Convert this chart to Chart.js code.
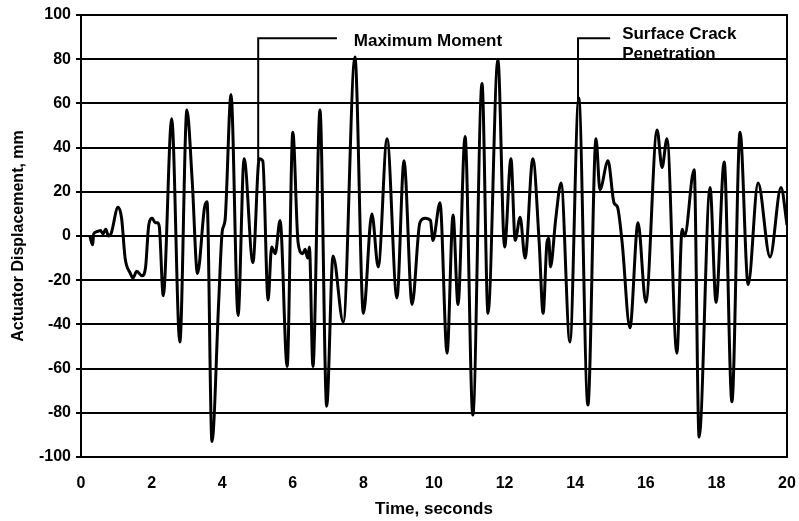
<!DOCTYPE html>
<html>
<head>
<meta charset="utf-8">
<script src="https://cdn.jsdelivr.net/npm/chart.js@4.4.0/dist/chart.umd.min.js"></script>
<style>
  html, body { margin: 0; padding: 0; background: #fff; }
  canvas { display: block; }
</style>
</head>
<body>
<canvas id="myChart" width="799" height="521"></canvas>
<script>
// actuator record, time in seconds / displacement in mm
const times = [
  0.25, 0.33, 0.36, 0.45, 0.55, 0.62, 0.7, 0.78, 0.85, 1.05,
  1.15, 1.25, 1.4, 1.47, 1.58, 1.73, 1.83, 1.92, 2.02, 2.1,
  2.17, 2.22, 2.33, 2.57, 2.8, 3.0, 3.15, 3.3, 3.5, 3.57,
  3.71, 3.9, 4.0, 4.08, 4.25, 4.45, 4.62, 4.87, 5.05, 5.15,
  5.3, 5.4, 5.5, 5.64, 5.84, 6.0, 6.15, 6.28, 6.35, 6.42,
  6.47, 6.57, 6.77, 6.96, 7.14, 7.43, 7.76, 8.0, 8.24, 8.42,
  8.67, 8.95, 9.15, 9.38, 9.6, 9.75, 9.9, 9.97, 10.17, 10.37,
  10.54, 10.68, 10.88, 11.1, 11.36, 11.53, 11.81, 12.0, 12.18, 12.3,
  12.44, 12.58, 12.8, 12.98, 13.09, 13.2, 13.25, 13.3, 13.45, 13.6,
  13.85, 14.1, 14.36, 14.59, 14.7, 14.93, 15.1, 15.2, 15.33, 15.55,
  15.78, 16.0, 16.32, 16.46, 16.6, 16.88, 17.03, 17.1, 17.37, 17.51,
  17.82, 17.99, 18.22, 18.44, 18.67, 18.9, 19.18, 19.52, 19.83, 20.0,
];
const displacement = [
  0, -4, 1, 2, 2.5, 1, 3, 0, 1, 13,
  8, -10, -17, -19, -16, -18, -14, 5, 8, 6,
  6, 4, -27, 53, -48, 57, 25, -17, 13, 15.5,
  -93, -30, 2, 7, 64, -36, 35, -12, 35, 34,
  -29, -5, -8, 7, -59, 47, -3, -8, -6, -10,
  -5, -59, 57, -77, -9, -39, 81, -35, 10, -14,
  44, -28, 34, -31, 6, 8, 7, -2, 15, -53,
  9.5, -31, 45, -81, 69, -35, 80, -5, 35, -2,
  8.5, -10, 35, -3, -35, -3, -1, -14, 8, 24,
  -48, 62.5, -76.5, 44, 21, 34, 15, 13, -3, -41.5,
  6, -30, 48, 31, 44, -53, 3, 0, 30, -91,
  22, -30, 33.5, -75, 47, -22, 24, -9.5, 22, 5,
];
const xTicks = [0, 2, 4, 6, 8, 10, 12, 14, 16, 18, 20];
const yTicks = [-100, -80, -60, -40, -20, 0, 20, 40, 60, 80, 100];

// callouts: leader from the peak up to the elbow, then across to the note
const callouts = [
  { t: 5.02, peak: 34, elbow: 7.25, textT: 7.73, lines: ["Maximum Moment"], textY: [86] },
  { t: 14.08, peak: 61, elbow: 14.99, textT: 15.33, lines: ["Surface Crack", "Penetration"], textY: [89, 80.2] },
];
const calloutTop = 89.5;

const FONT = '"Liberation Sans", Arial, Helvetica, sans-serif';

const frameAndCallouts = {
  id: "frameAndCallouts",
  afterDatasetsDraw(chart) {
    const { ctx, chartArea, scales } = chart;
    const x = scales.x;
    const y = scales.y;
    ctx.save();
    ctx.strokeStyle = "#000";
    ctx.lineWidth = 2;
    ctx.strokeRect(chartArea.left, chartArea.top, chartArea.right - chartArea.left, chartArea.bottom - chartArea.top);

    ctx.fillStyle = "#000";
    ctx.font = "bold 17px " + FONT;
    ctx.textBaseline = "alphabetic";
    ctx.textAlign = "left";
    callouts.forEach((c) => {
      const px = x.getPixelForValue(c.t);
      const top = y.getPixelForValue(calloutTop);
      ctx.beginPath();
      ctx.moveTo(px, y.getPixelForValue(c.peak));
      ctx.lineTo(px, top);
      ctx.lineTo(x.getPixelForValue(c.elbow), top);
      ctx.stroke();
      c.lines.forEach((line, i) => {
        ctx.fillText(line, x.getPixelForValue(c.textT), y.getPixelForValue(c.textY[i]));
      });
    });
    ctx.restore();
  },
};

const ctx = document.getElementById("myChart").getContext("2d");
const myChart = new Chart(ctx, {
  type: "line",
  data: {
    datasets: [
      {
        data: times.map((t, i) => ({ x: t, y: displacement[i] })),
        borderColor: "#000",
        borderWidth: 3,
        pointRadius: 0,
        cubicInterpolationMode: "monotone",
        fill: false,
      },
    ],
  },
  options: {
    responsive: false,
    animation: false,
    devicePixelRatio: 1,
    layout: { padding: { top: 15, right: 12, left: 0, bottom: 0 } },
    plugins: {
      legend: { display: false },
      tooltip: { enabled: false },
    },
    scales: {
      x: {
        type: "linear",
        min: 0,
        max: 20,
        afterBuildTicks: (scale) => {
          scale.ticks = xTicks.map((v) => ({ value: v }));
        },
        afterFit: (scale) => {
          scale.height = 64;
          scale.paddingLeft = 0;
          scale.paddingRight = 0;
        },
        grid: { display: false, drawTicks: false },
        border: { display: true, color: "#000", width: 2 },
        ticks: {
          color: "#000",
          padding: 17,
          maxRotation: 0,
          font: { family: FONT, size: 16, weight: "bold" },
        },
        title: {
          display: true,
          text: "Time, seconds",
          color: "#000",
          padding: { top: 0, bottom: 1 },
          font: { family: FONT, size: 17, weight: "bold" },
        },
      },
      y: {
        min: -100,
        max: 100,
        afterBuildTicks: (scale) => {
          scale.ticks = yTicks.map((v) => ({ value: v }));
        },
        afterFit: (scale) => {
          scale.width = 81;
          scale.paddingTop = 0;
          scale.paddingBottom = 0;
        },
        grid: { color: "#000", lineWidth: 2, tickLength: 5, tickColor: "#000", tickWidth: 2 },
        border: { display: true, color: "#000", width: 2 },
        ticks: {
          color: "#000",
          padding: 5,
          font: { family: FONT, size: 16, weight: "bold" },
        },
        title: {
          display: true,
          text: "Actuator Displacement, mm",
          color: "#000",
          padding: { top: 9, bottom: 0 },
          font: { family: FONT, size: 16, weight: "bold" },
        },
      },
    },
  },
  plugins: [frameAndCallouts],
});
</script>
</body>
</html>
